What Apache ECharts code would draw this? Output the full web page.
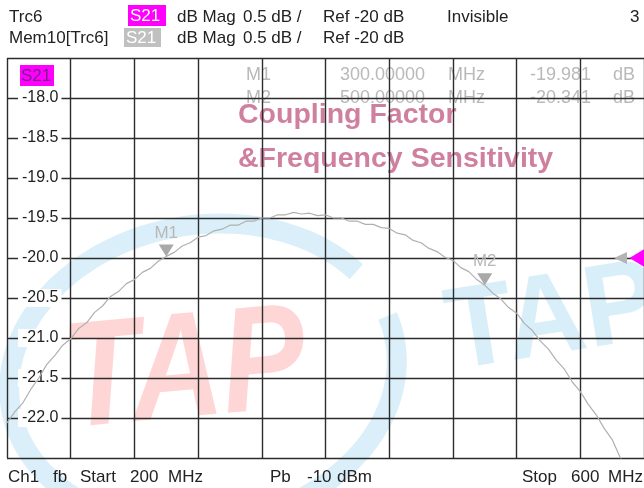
<!DOCTYPE html>
<html>
<head>
<meta charset="utf-8">
<script src="https://cdn.jsdelivr.net/npm/echarts@6/dist/echarts.min.js"></script>
<style>
  html, body { margin: 0; padding: 0; background: #ffffff; }
  #chart { width: 644px; height: 488px; }
</style>
</head>
<body>
<div id="chart"></div>
<script>
// ---- data ----
const freqMHz = [200,205,210,215,220,225,230,235,240,245,250,255,260,265,270,275,280,285,290,295,
  300,305,310,315,320,325,330,335,340,345,350,355,360,365,370,375,380,385,390,395,
  400,405,410,415,420,425,430,435,440,445,450,455,460,465,470,475,480,485,490,495,
  500,505,510,515,520,525,530,535,540,545,550,555,560,565,570,575,580,585,590,595,600];
const s21dB = [-22.06,-21.92,-21.81,-21.64,-21.50,-21.33,-21.22,-21.09,-21.01,-20.88,
  -20.81,-20.68,-20.60,-20.48,-20.42,-20.32,-20.27,-20.18,-20.13,-20.04,
  -19.98,-19.93,-19.85,-19.81,-19.74,-19.72,-19.66,-19.64,-19.59,-19.59,
  -19.54,-19.54,-19.50,-19.50,-19.46,-19.46,-19.43,-19.45,-19.44,-19.47,
  -19.46,-19.50,-19.50,-19.54,-19.54,-19.58,-19.58,-19.62,-19.63,-19.69,
  -19.71,-19.78,-19.81,-19.88,-19.92,-19.99,-20.03,-20.12,-20.17,-20.27,
  -20.34,-20.44,-20.51,-20.62,-20.69,-20.82,-20.91,-21.04,-21.14,-21.28,
  -21.39,-21.55,-21.67,-21.83,-21.96,-22.13,-22.27,-22.49,-22.65,-22.85,-23.01];
const markerNames = ['M1', 'M2'];
const markerFreqs = [300, 500];
const markerValues = [-19.981, -20.341];
const markerFreqText = ['300.00000', '500.00000'];
const markerValueText = ['-19.981', '-20.341'];
const refLevel = -20;
const startFreq = 200, stopFreq = 600, freqDiv = 40;
const yMin = -22.5, yMax = -17.5, yDiv = 0.5;

const FONT = '"Liberation Sans", Arial, sans-serif';
const chart = echarts.init(document.getElementById('chart'), null, { renderer: 'canvas' });

function txt(x, y, text, size, color, extra) {
  return {
    type: 'text', z: 10,
    style: Object.assign({
      x: x, y: y, text: text, fill: color,
      fontSize: size, fontFamily: FONT,
      align: 'left', verticalAlign: 'middle',
      textAlign: 'left', textVerticalAlign: 'middle'
    }, extra || {})
  };
}
function box(x, y, w, h, color) {
  return { type: 'rect', z: 9, shape: { x: x, y: y, width: w, height: h }, style: { fill: color } };
}

// decorative watermark ring (tilted ellipse with a gap)
const ringPts = [];
(function () {
  const cx = 203, cy = 375, rx = 195, ry = 150, phi = 10 * Math.PI / 180;
  for (let d = 30; d <= 370; d += 4) {
    const t = d * Math.PI / 180;
    ringPts.push([
      cx + rx * Math.cos(t) * Math.cos(phi) - ry * Math.sin(t) * Math.sin(phi),
      cy - (rx * Math.cos(t) * Math.sin(phi) + ry * Math.sin(t) * Math.cos(phi))
    ]);
  }
})();

const graphics = [
  { type: 'polyline', z: -2, shape: { points: ringPts, smooth: 0.3 },
    style: { fill: null, stroke: 'rgba(70,175,225,0.2)', lineWidth: 20 } },
  { type: 'text', z: -2, x: 64, y: 386, rotation: 0.09, scaleX: 0.84,
    style: { x: 0, y: 0, text: 'TAP', fill: 'rgba(255,70,70,0.22)', fontSize: 150, fontWeight: 'bold',
      fontStyle: 'italic', fontFamily: FONT, align: 'left', verticalAlign: 'middle',
      textAlign: 'left', textVerticalAlign: 'middle' } },
  { type: 'text', z: -2, x: 448, y: 338, rotation: 0.16, scaleX: 0.95,
    style: { x: 0, y: 0, text: 'TAP', fill: 'rgba(70,175,225,0.21)', fontSize: 116, fontWeight: 'bold',
      fontFamily: FONT, align: 'left', verticalAlign: 'middle',
      textAlign: 'left', textVerticalAlign: 'middle' } },
  Object.assign(txt(238, 115, 'Coupling Factor', 28.5, 'rgba(200,110,145,0.88)', { fontWeight: 'bold' }), { z: -1 }),
  Object.assign(txt(238, 159, '&Frequency Sensitivity', 28.5, 'rgba(200,110,145,0.88)', { fontWeight: 'bold' }), { z: -1 }),
  txt(9, 17, 'Trc6', 17, '#222'),
  box(128, 5, 38, 21, '#ff00ff'),
  txt(130, 16, 'S21', 17, '#ffffff'),
  txt(177, 17, 'dB Mag', 17, '#222'),
  txt(243, 17, '0.5 dB /', 17, '#222'),
  txt(323, 17, 'Ref -20 dB', 17, '#222'),
  txt(447, 17, 'Invisible', 17, '#222'),
  txt(630, 17, '3', 17, '#222'),
  txt(9, 38, 'Mem10[Trc6]', 17, '#222'),
  box(124, 28, 37, 19, '#c0c0c0'),
  txt(126, 38, 'S21', 17, '#ffffff'),
  txt(177, 38, 'dB Mag', 17, '#222'),
  txt(243, 38, '0.5 dB /', 17, '#222'),
  txt(323, 38, 'Ref -20 dB', 17, '#222'),
  box(20, 65, 34, 21, '#ff00ff'),
  txt(21, 76, 'S21', 17, '#7a2088'),
  txt(8, 477, 'Ch1', 17, '#222'),
  txt(53, 477, 'fb', 17, '#222'),
  txt(80, 477, 'Start', 17, '#222'),
  txt(130, 477, String(startFreq), 17, '#222'),
  txt(168, 477, 'MHz', 17, '#222'),
  txt(270, 477, 'Pb', 17, '#222'),
  txt(307, 477, '-10', 17, '#222'),
  txt(337, 477, 'dBm', 17, '#222'),
  txt(522, 477, 'Stop', 17, '#222'),
  txt(571, 477, String(stopFreq), 17, '#222'),
  txt(608, 477, 'MHz', 17, '#222')
];
const readY = [75, 98];
markerNames.forEach(function (n, i) {
  const c = '#b9b9b9';
  graphics.push(Object.assign(txt(246, readY[i], n, 18, c), { z: -1 }));
  graphics.push(Object.assign(txt(340, readY[i], markerFreqText[i], 18, c), { z: -1 }));
  graphics.push(Object.assign(txt(448, readY[i], 'MHz', 18, c), { z: -1 }));
  graphics.push(Object.assign(txt(530, readY[i], markerValueText[i], 18, c), { z: -1 }));
  graphics.push(Object.assign(txt(613, readY[i], 'dB', 18, c), { z: -1 }));
});

const markData = markerNames.map(function (n, i) {
  return {
    coord: [markerFreqs[i], markerValues[i]],
    symbol: 'triangle', symbolRotate: 180, symbolSize: [15, 12], symbolOffset: [0, -6],
    itemStyle: { color: '#a9a9a9' },
    label: { show: true, position: 'top', distance: 3, formatter: n,
      color: '#b8b8b8', fontSize: 17, fontFamily: FONT }
  };
});
markData.push({
  coord: [stopFreq, refLevel], symbol: 'triangle', symbolRotate: 90, symbolSize: [18, 15],
  symbolOffset: [-7, 0], itemStyle: { color: '#ff00ff' }, label: { show: false }
});
markData.push({
  coord: [stopFreq, refLevel], symbol: 'triangle', symbolRotate: 90, symbolSize: [12, 13],
  symbolOffset: [-23.5, 0], itemStyle: { color: '#b4b4b4' }, label: { show: false }
});

const option = {
  backgroundColor: '#ffffff',
  animation: false,
  grid: { left: 7, top: 58, width: 640, height: 400, containLabel: false },
  xAxis: {
    type: 'value', min: startFreq, max: stopFreq, interval: freqDiv,
    axisLine: { show: false }, axisTick: { show: false }, axisLabel: { show: false },
    splitLine: { show: true, lineStyle: { color: '#2c2c2c', width: 1.4 } }
  },
  yAxis: {
    type: 'value', min: yMin, max: yMax, interval: yDiv,
    axisLine: { show: false }, axisTick: { show: false },
    axisLabel: {
      show: true, inside: true, margin: 11, showMinLabel: false, showMaxLabel: false,
      formatter: function (v) { return v.toFixed(1); },
      color: '#222', fontSize: 16, fontFamily: FONT,
      backgroundColor: '#ffffff', padding: [1, 3, 1, 4]
    },
    splitLine: { show: true, lineStyle: { color: '#2c2c2c', width: 1.4 } }
  },
  series: [{
    type: 'line', showSymbol: false, symbol: 'none', clip: true,
    data: freqMHz.map(function (f, i) { return [f, s21dB[i]]; }),
    lineStyle: { color: '#b0b0b0', width: 1.2 },
    markPoint: { data: markData, animation: false }
  }],
  graphic: graphics
};
chart.setOption(option);
</script>
</body>
</html>
